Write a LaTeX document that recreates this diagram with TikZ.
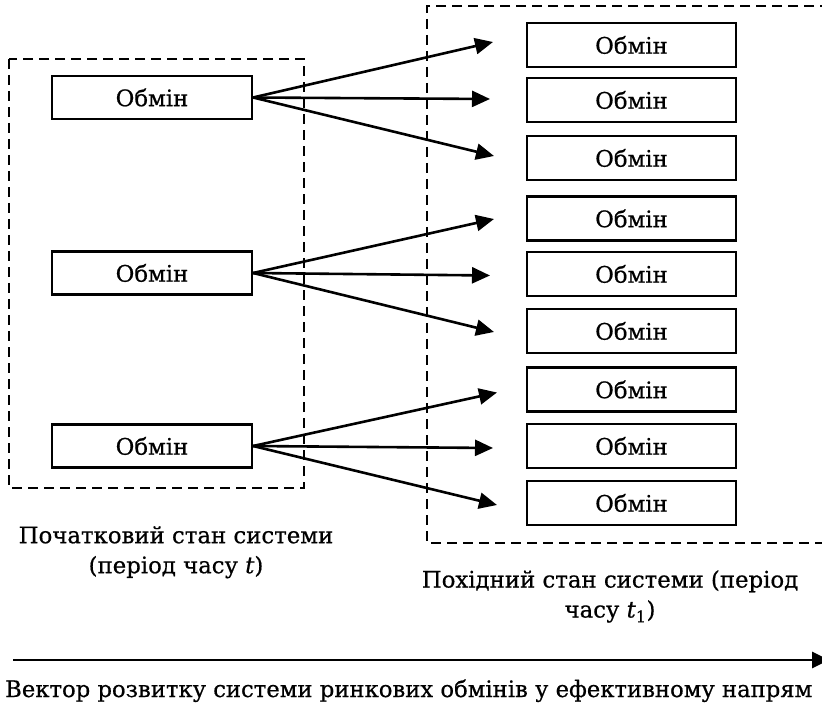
\documentclass[tikz,border=0pt]{standalone}
\usepackage{fontspec}
\setmainfont{DejaVu Serif}[FakeBold=0.6]
\usetikzlibrary{arrows.meta}
\begin{document}
\begin{tikzpicture}[x=1pt,y=-1pt,
  every node/.style={font=\fontsize{22.8}{30}\selectfont},
  obmin/.style={draw, line width=2.1pt, minimum width=200pt, minimum height=43pt, inner sep=0pt},
  obminr/.style={obmin, minimum width=209pt, minimum height=44pt},
  zone/.style={dash pattern=on 10pt off 6pt, line width=1.7pt},
  link/.style={line width=2.6pt, -{Triangle[length=18pt,width=16pt]}},
  label/.style={inner sep=0pt, align=center},
]
\useasboundingbox (0,0) rectangle (822,703);

% dashed frames of the two system states
\draw[zone] (9,59) rectangle (304,488);
\draw[zone] (830,6) -| (427,543) -- (830,543);

% initial exchanges
\node[obmin] (L1) at (152,97.5) {Обмін};
\node[obmin] (L2) at (152,273) {Обмін};
\node[obmin] (L3) at (152,446) {Обмін};

% derived exchanges
\node[obminr] (R1) at (631.5,45) {Обмін};
\node[obminr] (R2) at (631.5,100) {Обмін};
\node[obminr] (R3) at (631.5,158) {Обмін};
\node[obminr] (R4) at (631.5,218.5) {Обмін};
\node[obminr] (R5) at (631.5,274) {Обмін};
\node[obminr] (R6) at (631.5,331) {Обмін};
\node[obminr] (R7) at (631.5,389.5) {Обмін};
\node[obminr] (R8) at (631.5,446) {Обмін};
\node[obminr] (R9) at (631.5,503) {Обмін};

% arrow tips in front of the derived exchanges
\coordinate (a1) at (493,42);
\coordinate (a2) at (490,99);
\coordinate (a3) at (494,156);
\coordinate (a4) at (494,219);
\coordinate (a5) at (490,275.5);
\coordinate (a6) at (494,332);
\coordinate (a7) at (497,392.5);
\coordinate (a8) at (493,448);
\coordinate (a9) at (497,505);

\draw[link] (L1.east) -- (a1);
\draw[link] (L1.east) -- (a2);
\draw[link] (L1.east) -- (a3);
\draw[link] (L2.east) -- (a4);
\draw[link] (L2.east) -- (a5);
\draw[link] (L2.east) -- (a6);
\draw[link] (L3.east) -- (a7);
\draw[link] (L3.east) -- (a8);
\draw[link] (L3.east) -- (a9);

% captions
\node[label, anchor=north] (capL) at (176,526) {Початковий стан системи\\(період часу \textit{t})};
\node[label, anchor=north] (capR) at (610,570) {Похідний стан системи (період\\часу \textit{t}\textsubscript{1})};

% development vector
\coordinate (vs) at (13,660);
\coordinate (ve) at (829,660);
\draw[line width=2.8pt, -{Triangle[length=17pt,width=16pt]}] (vs) -- (ve);
\node[label, anchor=base west, font=\fontsize{22.7}{30}\selectfont] (vec) at (5,697) {Вектор розвитку системи ринкових обмінів у ефективному напрям};
\end{tikzpicture}
\end{document}
